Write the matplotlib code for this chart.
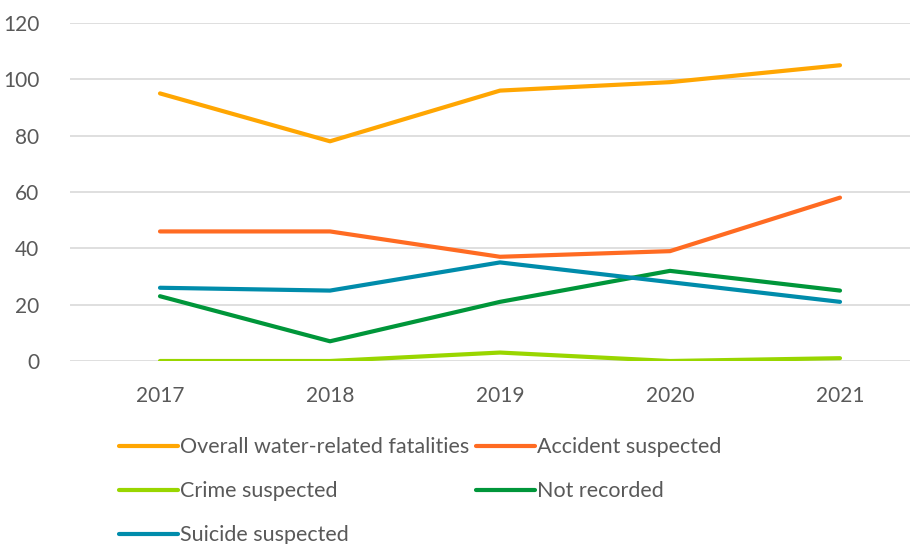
import matplotlib.pyplot as plt
import numpy as np

# data
years = ['2017', '2018', '2019', '2020', '2021']
overall = [95, 78, 96, 99, 105]
accident = [46, 46, 37, 39, 58]
crime = [0, 0, 3, 0, 1]
not_recorded = [23, 7, 21, 32, 25]
suicide = [26, 25, 35, 28, 21]

series = [
    ('Overall water-related fatalities', overall, '#FFA602'),
    ('Accident suspected', accident, '#FF6B22'),
    ('Crime suspected', crime, '#99D600'),
    ('Not recorded', not_recorded, '#00963A'),
    ('Suicide suspected', suicide, '#008CAB'),
]

plt.rcParams['font.family'] = ['Lato', 'DejaVu Sans']
text_col = '#595959'

fig = plt.figure(figsize=(9.1, 5.44), dpi=100)
ax = fig.add_axes([70 / 910, (544 - 361) / 544, 840 / 910, (361 - 23) / 544])

x = np.arange(len(years))
lines = []
for name, vals, col in series:
    ln, = ax.plot(x, vals, color=col, lw=3, label=name, solid_capstyle='round', solid_joinstyle='round')
    lines.append(ln)

ax.set_ylim(0, 120)
ax.set_yticks(range(0, 121, 20))
ax.set_xlim(-90 / 170, 4 + 70 / 170)
ax.set_xticks(x)
ax.set_xticklabels(years)

ax.grid(axis='y', color='#D9D9D9', lw=1.2)
ax.set_axisbelow(True)
for s in ax.spines.values():
    s.set_visible(False)
ax.tick_params(length=0, labelsize=15, colors=text_col)
ax.tick_params(axis='y', pad=22)
ax.tick_params(axis='x', pad=18)

# row-wise legend order (matplotlib fills by column)
order = [0, 2, 4, 1, 3]
leg = ax.legend([lines[i] for i in order], [series[i][0] for i in order],
                loc='upper left', bbox_to_anchor=(40 / 840, -0.2), ncol=2, frameon=False,
                fontsize=15.5, handlelength=2.75, handletextpad=0.1, labelspacing=1.12,
                columnspacing=0.3, borderaxespad=0)
for t in leg.get_texts():
    t.set_color(text_col)

fig.savefig('out.png', dpi=100)
